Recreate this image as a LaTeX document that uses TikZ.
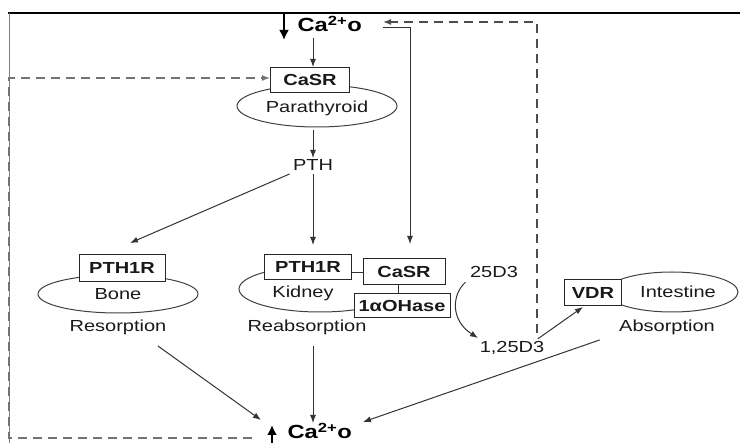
\documentclass[tikz,border=0pt]{standalone}
\usepackage{fontspec}
\setmainfont{Liberation Sans}[FakeStretch=1.25]
\usetikzlibrary{arrows.meta,shapes.geometric}
\begin{document}
\begin{tikzpicture}[x=1pt,y=-1pt,
  line width=1pt,
  every node/.style={font=\fontsize{16}{18}\selectfont, text=black!90},
  arr/.style={draw=black!80, -{Latex[length=8pt,width=6pt]}},
  dsh/.style={draw=black!55, dash pattern=on 9pt off 6pt, line width=1.4pt},
  rbox/.style={draw=black!85, fill=white, font=\fontsize{16}{18}\selectfont\bfseries, inner sep=0pt, minimum height=25pt},
  organ/.style={ellipse, draw=black!75, inner sep=0pt},
  lbl/.style={inner sep=1pt},
  bigca/.style={font=\fontsize{19}{20}\selectfont\bfseries, text=black, inner sep=0pt, anchor=west}
]
\useasboundingbox (0,0) rectangle (740,443);
% frame
\draw[black, line width=1.3pt] (8,13) -- (740,13);
\draw[black!50, line width=1pt] (9,13) -- (9,443);

% organs
\node[organ, minimum width=160pt, minimum height=42pt] (para) at (317,106) {};
\node[organ, minimum width=160pt, minimum height=38pt] (bone) at (118,294) {};
\node[organ, minimum width=162pt, minimum height=46pt] (kid) at (320,289) {};
\node[organ, minimum width=132pt, minimum height=40pt] (intes) at (672,292) {};
\fill[white] (351,262) rectangle (364,282);
\fill[white] (363,284) rectangle (404,295);

% boxes
\node[rbox, minimum width=79pt] (casrP) at (310,80) {CaSR};
\node[rbox, minimum width=86pt, minimum height=27pt] (pthB) at (122,268) {PTH1R};
\node[rbox, minimum width=87pt] (pthK) at (308,267) {PTH1R};
\node[rbox, minimum width=82pt, minimum height=26pt] (casrK) at (404,272) {CaSR};
\node[rbox, minimum width=96pt, minimum height=24pt] (ohase) at (402,306) {1αOHase};
\node[rbox, minimum width=57pt, minimum height=26pt] (vdr) at (593,293) {VDR};

% labels
\node[lbl] (tpara) at (317,108) {Parathyroid};
\node[lbl] (tbone) at (118,294) {Bone};
\node[lbl] (tkid) at (303,293) {Kidney};
\node[lbl] (tint) at (678,292) {Intestine};
\node[lbl] (resorp) at (118,327) {Resorption};
\node[lbl] (reabs) at (307,327) {Reabsorption};
\node[lbl] (abs) at (667,327) {Absorption};
\node[lbl] (pth) at (313,165) {PTH};
\node[lbl] (d25) at (494,272) {25D3};
\node[lbl] (d125) at (512,348) {1,25D3};

% Ca nodes
\node[bigca] (caT) at (297,24) {Ca\textsuperscript{2+}o};
\node[bigca] (caB) at (287,431) {Ca\textsuperscript{2+}o};

% thick Ca arrows
\coordinate (topIn) at (284,13);
\coordinate (topTip) at (284,40);
\draw[draw=black, line width=2.2pt, -{Latex[length=10pt,width=10pt]}] (topIn) -- (topTip);
\coordinate (botIn) at (272,443);
\coordinate (botTip) at (272,425);
\draw[draw=black, line width=2.2pt, -{Latex[length=10pt,width=10pt]}] (botIn) -- (botTip);

% main arrows
\draw[arr] (313,38) -- (casrP.north -| 313,0);
\draw[arr] (para.south -| 313,0) ++(0,3) -- (pth.north);
\draw[arr] (pth.south west) ++(-2,2) -- (130,243);
\draw[arr] (pth.south) ++(0,2) -- (313,245);
\draw[arr] (resorp.south east) ++(-10,10) -- (261,420);
\draw[arr] (reabs.south) ++(6,10) -- (313,423);
\draw[arr] (abs.south west) ++(-18,4) -- (363,422);
\draw[arr] (d125.north east) ++(-8,-1) -- (583,307);

% CaSR kidney feed
\coordinate (feed0) at (383,28);
\coordinate (feed1) at (410,28);
\coordinate (feed2) at (410,244);
\draw[arr] (feed0) -- (feed1) -- (feed2);

% small connectors
\draw[draw=black!80] (pthK.east |- 0,273) -- (casrK.west |- 0,273);
\draw[draw=black!80] (casrK.south -| 398,0) -- (ohase.north -| 398,0);

% 25D3 -> 1,25D3 curve
\draw[arr] (d25.south west) ++(-3,3) .. controls (452,294) and (450,320) .. (478,338);

% dashed feedback loops
\coordinate (dR1) at (537,333);
\coordinate (dR2) at (537,22);
\coordinate (dR3) at (383,22);
\draw[dsh, draw=black!70, -{Latex[length=8pt,width=6pt]}] (dR1) -- (dR2) -- (dR3);
\coordinate (dL0) at (252,438);
\coordinate (dL1) at (9,438);
\coordinate (dL2) at (9,78);
\draw[dsh, -{Latex[length=8pt,width=6pt]}] (dL0) -- (dL1) -- (dL2) -- (casrP.west |- 0,78);
\end{tikzpicture}
\end{document}
